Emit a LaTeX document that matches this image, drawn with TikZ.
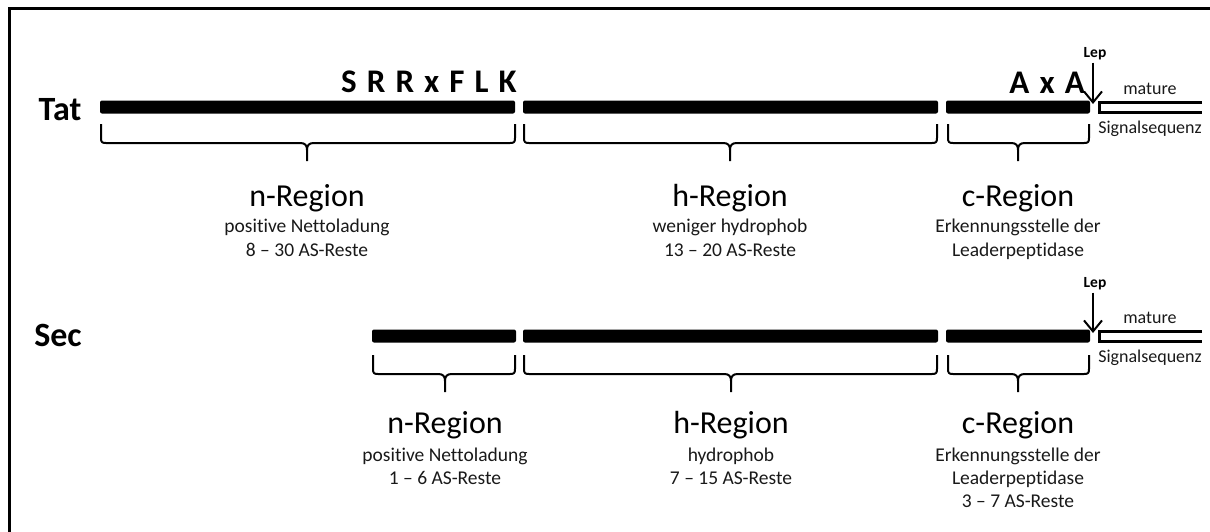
\documentclass[tikz,border=0pt]{standalone}
\usepackage{fontspec}
\setmainfont{Carlito}[Ligatures=NoCommon]
\usetikzlibrary{arrows.meta}

% curly brace opening downwards: #1 left x, #2 right x, #3 stem x, #4 top y
\newcommand\downbrace[4]{%
  \draw[brc] (#1,#4) -- (#1,#4+14)
    .. controls (#1,#4+18) and (#1+1,#4+19) .. (#1+5,#4+19)
    -- (#3-7,#4+19)
    .. controls (#3-2,#4+19) and (#3,#4+21) .. (#3,#4+26)
    -- (#3,#4+37);
  \draw[brc] (#2,#4) -- (#2,#4+14)
    .. controls (#2,#4+18) and (#2-1,#4+19) .. (#2-5,#4+19)
    -- (#3+7,#4+19)
    .. controls (#3+2,#4+19) and (#3,#4+21) .. (#3,#4+26);
}

\begin{document}
\begin{tikzpicture}[x=1pt,y=-1pt,
  seg/.style={fill=black, rounded corners=2pt, inner sep=0pt, minimum height=13pt},
  brc/.style={line width=2pt, line join=round},
  rowlabel/.style={font=\fontsize{34}{36}\selectfont\bfseries, anchor=base, inner sep=0pt},
  motif/.style={font=\fontsize{33}{36}\selectfont\bfseries\addfontfeature{LetterSpace=8}, anchor=base east, inner sep=0pt},
  title/.style={font=\fontsize{32}{34}\selectfont, anchor=base, inner sep=0pt},
  note/.style={font=\fontsize{19.5}{22}\selectfont, anchor=base, inner sep=0pt, text=black!90},
  tag/.style={font=\fontsize{18}{20}\selectfont, anchor=base, inner sep=0pt, text=black!90},
  leptext/.style={font=\fontsize{15.5}{17}\selectfont\bfseries, anchor=base, inner sep=0pt},
  cut/.style={-{Straight Barb[length=11pt,width=18pt,line width=2pt]}, line width=2pt},
  mature/.style={line width=3pt}
]
\useasboundingbox (0,0) rectangle (1210,531);

% frame
\draw[line width=3pt] (9,540) -- (9,8) -- (1220,8);

% ---------------- Tat ----------------
\node[rowlabel] (tatlabel) at (60,120) {Tat};
\node[seg, minimum width=415pt] (tatn) at (307.5,107) {};
\node[seg, minimum width=415pt] (tath) at (730.5,107) {};
\node[seg, minimum width=144pt] (tatc) at (1018,107) {};
\node[motif] (srr) at (517,92) {S R R x F L K};
\node[motif] (axa) at (1085,93) {A x A};

\draw[mature] (1202,102) -- (1099.5,102) -- (1099.5,112) -- (1202,112);
\node[tag] (tatmat) at (1150,94) {mature};
\node[tag] (tatsig) at (1150,133) {Signalsequenz};
\node[leptext] (tatlep) at (1095,57) {Lep};
\coordinate (tatcut) at (1093,104);
\draw[cut] (tatlep.south -| tatcut) ++(0,3) -- (tatcut);

\downbrace{101}{515}{307}{124}
\downbrace{524}{937}{730}{124}
\downbrace{948}{1089}{1018}{124}

\node[title] (tatnt) at (307,206) {n-Region};
\node[note]  (tatn1) at (307,232) {positive Nettoladung};
\node[note]  (tatn2) at (307,256) {8 – 30 AS-Reste};

\node[title] (tatht) at (730,206) {h-Region};
\node[note]  (tath1) at (730,232) {weniger hydrophob};
\node[note]  (tath2) at (730,256) {13 – 20 AS-Reste};

\node[title] (tatct) at (1018,206) {c-Region};
\node[note]  (tatc1) at (1018,232) {Erkennungsstelle der};
\node[note]  (tatc2) at (1018,256) {Leaderpeptidase};

% ---------------- Sec ----------------
\node[rowlabel] (seclabel) at (58,346) {Sec};
\node[seg, minimum width=144pt] (secn) at (444,336) {};
\node[seg, minimum width=415pt] (sech) at (730.5,336) {};
\node[seg, minimum width=144pt] (secc) at (1018,336) {};

\draw[mature] (1202,331) -- (1099.5,331) -- (1099.5,341) -- (1202,341);
\node[tag] (secmat) at (1150,323) {mature};
\node[tag] (secsig) at (1150,362) {Signalsequenz};
\node[leptext] (seclep) at (1095,287) {Lep};
\coordinate (seccut) at (1093,333);
\draw[cut] (seclep.south -| seccut) ++(0,3) -- (seccut);

\downbrace{373}{515}{445}{355}
\downbrace{524}{937}{731}{355}
\downbrace{948}{1089}{1018}{355}

\node[title] (secnt) at (445,433) {n-Region};
\node[note]  (secn1) at (445,461) {positive Nettoladung};
\node[note]  (secn2) at (445,484) {1 – 6 AS-Reste};

\node[title] (secht) at (731,433) {h-Region};
\node[note]  (sech1) at (731,461) {hydrophob};
\node[note]  (sech2) at (731,484) {7 – 15 AS-Reste};

\node[title] (secct) at (1018,433) {c-Region};
\node[note]  (secc1) at (1018,461) {Erkennungsstelle der};
\node[note]  (secc2) at (1018,484) {Leaderpeptidase};
\node[note]  (secc3) at (1018,507) {3 – 7 AS-Reste};
\end{tikzpicture}
\end{document}
